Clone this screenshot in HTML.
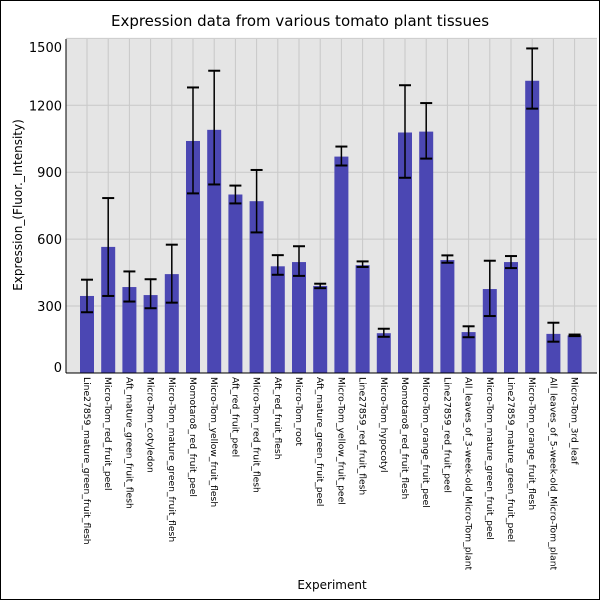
<!DOCTYPE html>
<html><head><style>body{margin:0;background:#fff}svg{display:block}</style></head><body>
<svg width="600" height="600" xmlns="http://www.w3.org/2000/svg" font-family="DejaVu Sans, Liberation Sans, sans-serif">
<rect x="0.5" y="0.5" width="599" height="599" fill="#fff" stroke="#000"/>
<text x="300" y="26" font-size="15" text-anchor="middle">Expression data from various tomato plant tissues</text>
<rect x="66" y="39" width="531" height="334" fill="#e5e5e5"/>
<g id="g"></g>
<line x1="66" y1="39" x2="66" y2="373" stroke="#000"/>
<line x1="66" y1="373" x2="597" y2="373" stroke="#000"/>
<g font-size="13" text-anchor="end" id="yl"></g>
<text transform="translate(22,205) rotate(-90)" font-size="12" text-anchor="middle">Expression_(Fluor._Intensity)</text>
<text x="332" y="589" font-size="12" text-anchor="middle">Experiment</text>
<g id="xl" font-size="9.2"></g>
</svg>
<script>
const d=[[345,418,272],[565,784,345],[385,455,320],[349,420,290],[443,575,315],[1040,1280,805],[1090,1355,845],[800,840,760],[770,910,630],[478,528,440],[497,568,435],[390,400,380],[970,1015,930],[483,500,475],[178,198,162],[1078,1290,875],[1082,1210,961],[506,527,494],[183,209,160],[376,503,255],[497,524,470],[1310,1455,1185],[175,225,140],[168,172,165]];
const n=["Line27859_mature_green_fruit_flesh","Micro-Tom_red_fruit_peel","Aft_mature_green_fruit_flesh","Micro-Tom_cotyledon","Micro-Tom_mature_green_fruit_flesh","Momotaro8_red_fruit_peel","Micro-Tom_yellow_fruit_flesh","Aft_red_fruit_peel","Micro-Tom_red_fruit_flesh","Aft_red_fruit_flesh","Micro-Tom_root","Aft_mature_green_fruit_peel","Micro-Tom_yellow_fruit_peel","Line27859_red_fruit_flesh","Micro-Tom_hypocotyl","Momotaro8_red_fruit_flesh","Micro-Tom_orange_fruit_peel","Line27859_red_fruit_peel","All_leaves_of_3-week-old_Micro-Tom_plant","Micro-Tom_mature_green_fruit_peel","Line27859_mature_green_fruit_peel","Micro-Tom_orange_fruit_flesh","All_leaves_of_5-week-old_Micro-Tom_plant","Micro-Tom_3rd_leaf"];
const Y=v=>372.9-v*0.223;let s="",yl="",xl="";
[0,300,600,900,1200,1500].forEach(v=>{const y=Y(v);s+=`<line x1="66" x2="597" y1="${y}" y2="${y}" stroke="#c8c8c8"/>`;let ty=y+5;if(v==1500)ty=52;if(v==0)ty=372;yl+=`<text x="62" y="${ty}">${v}</text>`});
d.forEach((b,i)=>{const c=87+i*21.2;s+=`<line x1="${c}" x2="${c}" y1="39" y2="373" stroke="#c8c8c8"/>`});
d.forEach((b,i)=>{const c=87+i*21.2;s+=`<rect x="${c-7}" y="${Y(b[0])}" width="14" height="${372.9-Y(b[0])}" fill="#4b47b3"/>`;
s+=`<line x1="${c}" x2="${c}" y1="${Y(b[1])}" y2="${Y(b[2])}" stroke="#000" stroke-width="1.5"/><line x1="${c-6}" x2="${c+6}" y1="${Y(b[1])}" y2="${Y(b[1])}" stroke="#000" stroke-width="2"/><line x1="${c-6}" x2="${c+6}" y1="${Y(b[2])}" y2="${Y(b[2])}" stroke="#000" stroke-width="2"/>`;
xl+=`<text transform="translate(${c-3},377) rotate(90)">${n[i]}</text>`});
document.getElementById("g").innerHTML=s;document.getElementById("yl").innerHTML=yl;document.getElementById("xl").innerHTML=xl;
</script>
</body></html>
